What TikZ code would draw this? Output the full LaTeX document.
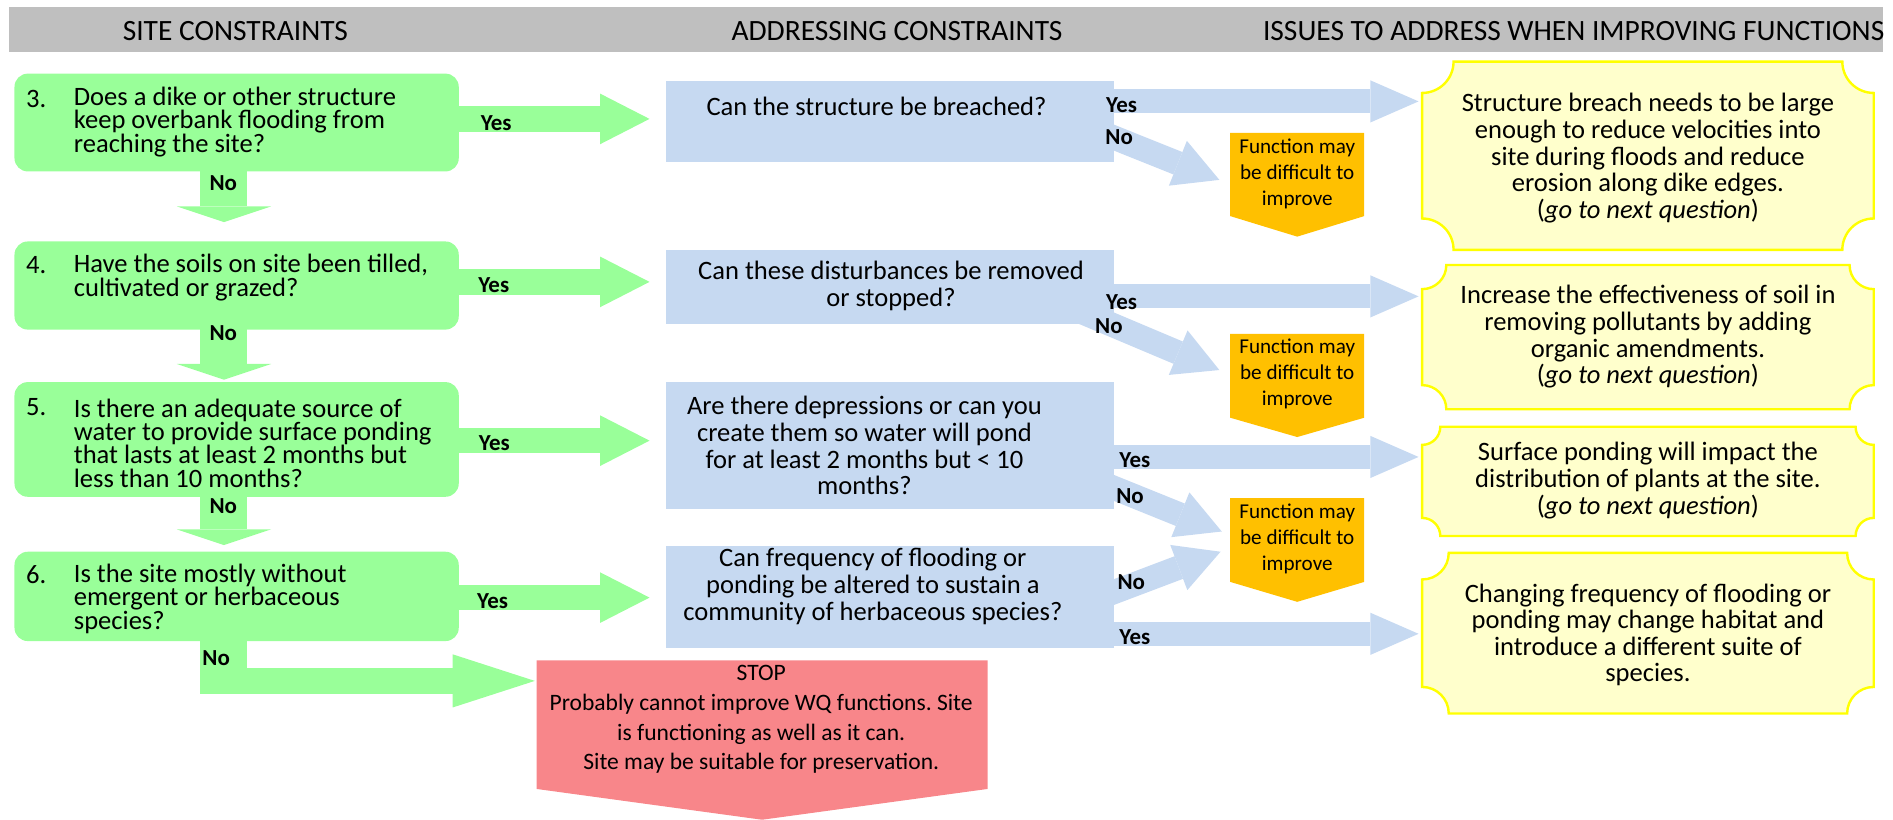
\documentclass[tikz,border=0pt]{standalone}
\usepackage{fontspec}
\setmainfont{Carlito}
\usetikzlibrary{arrows.meta,calc}
\lineskiplimit=-60pt
\lineskip=0pt
\frenchspacing
\definecolor{gfill}{HTML}{99FF99}
\definecolor{bfill}{HTML}{C6D9F1}
\definecolor{ofill}{HTML}{FFC000}
\definecolor{yfill}{HTML}{FFFFCC}
\definecolor{yline}{HTML}{FFFF00}
\definecolor{rfill}{HTML}{F8868A}
\definecolor{hfill}{HTML}{BFBFBF}
\pgfdeclarelayer{arrowlayer}
\pgfdeclarelayer{boxlayer}
\pgfsetlayers{arrowlayer,boxlayer,main}
\newcommand\fs[2]{\fontsize{#1}{#2}\selectfont}
\newcommand\plaque[2]{%
  \path[yshape] ($(#1.north west)+(#2,0)$) -- ($(#1.north east)+(-#2,0)$)
    arc[start angle=180,end angle=270,radius=#2pt]
    -- ($(#1.south east)+(0,-#2)$)
    arc[start angle=90,end angle=180,radius=#2pt]
    -- ($(#1.south west)+(#2,0)$)
    arc[start angle=0,end angle=90,radius=#2pt]
    -- ($(#1.north west)+(0,#2)$)
    arc[start angle=270,end angle=360,radius=#2pt]
    -- cycle;}
\newcommand\pointbox[3]{%
  \fill[#3] (#1.north west) -- (#1.north east) -- (#1.south east)
    -- ($(#1.south)+(0,#2)$) -- (#1.south west) -- cycle;}
\tikzset{
  fat/.style n args={4}{draw=#1, line width=#2,
    -{Triangle[length=#3 0 0, width=#4 0 0, line width=0pt]}},
  gyes/.style={fat={gfill}{21pt}{41pt}{42pt}},
  gdown/.style={fat={gfill}{39pt}{13pt}{78pt}},
  gbend/.style={fat={gfill}{22pt}{68pt}{44pt}},
  bfat/.style={fat={bfill}{20pt}{40pt}{35pt}},
  bdiag/.style={fat={bfill}{20pt}{37pt}{40pt}},
  shp/.style={inner sep=0pt, outer sep=0pt, draw=none},
  gbox/.style={shp, fill=gfill, rounded corners=11pt, minimum width=368pt},
  bbox/.style={shp, fill=bfill, minimum width=371pt},
  obox/.style={shp, minimum width=111pt},
  ybox/.style={shp, minimum width=374pt},
  yshape/.style={fill=yfill, draw=yline, line width=2pt},
  gtxt/.style={inner sep=0pt, font=\fs{22}{19.3}, align=left, anchor=west},
  numtxt/.style={inner sep=0pt, font=\fs{22}{19.3}, anchor=west},
  btxt/.style={inner sep=0pt, font=\fs{22}{22.3}, align=center},
  ytxt/.style={inner sep=0pt, font=\fs{22}{22}, align=center},
  otxt/.style={inner sep=0pt, font=\fs{17.5}{21.5}, align=center},
  stxt/.style={inner sep=0pt, font=\fs{19.5}{24.5}, align=center},
  lbl/.style={inner sep=0pt, font=\fs{19}{19}\bfseries},
  hdr/.style={inner sep=0pt, font=\fs{24.4}{24}},
}
\begin{document}
\begin{tikzpicture}[x=1pt,y=-1pt]
\useasboundingbox (0,0) rectangle (1568,679);
\begin{pgfonlayer}{boxlayer}
  \node[shp, fill=hfill, minimum width=1552.5pt, minimum height=37pt] (hbar) at (783.75,24.5) {};
  % green boxes
  \node[gbox, minimum height=81pt] (g3) at (196,101.5) {};
  \node[gbox, minimum height=73pt] (g4) at (196,236.5) {};
  \node[gbox, minimum height=95pt] (g5) at (196,364) {};
  \node[gbox, minimum height=74pt] (g6) at (196,494) {};
  % blue boxes
  \node[bbox, minimum height=67pt] (b1) at (737.5,100.5) {};
  \node[bbox, minimum height=61pt] (b2) at (737.5,237.5) {};
  \node[bbox, minimum height=105.5pt] (b3) at (737.5,369.25) {};
  \node[bbox, minimum height=85pt] (b4) at (737.5,494.5) {};
  % orange boxes
  \node[obox, minimum height=69pt] (o1) at (1074.5,144.5) {};
  \node[obox, minimum height=69.5pt] (o2) at (1074.5,311.25) {};
  \node[obox, minimum height=69.5pt] (o3) at (1074.5,447.25) {};
  \pointbox{o1}{17}{ofill}
  \pointbox{o2}{16}{ofill}
  \pointbox{o3}{16.5}{ofill}
  % yellow boxes
  \node[ybox, minimum height=156pt] (y1) at (1365,129) {};
  \node[ybox, minimum height=119.5pt] (y2) at (1365,279.25) {};
  \node[ybox, minimum height=90.5pt] (y3) at (1365,398.75) {};
  \node[ybox, minimum height=133pt] (y4) at (1365,524.5) {};
  \plaque{y1}{26}
  \plaque{y2}{20}
  \plaque{y3}{15}
  \plaque{y4}{22}
  % stop box
  \node[shp, minimum width=373.5pt, minimum height=106.5pt] (stop) at (631.25,600.25) {};
  \pointbox{stop}{25.5}{rfill}
\end{pgfonlayer}
\begin{pgfonlayer}{arrowlayer}
  % green yes arrows
  \coordinate (g3y) at ($(g3.east)+(-1,-3)$);
  \coordinate (g4y) at ($(g4.east)+(-1,-3)$);
  \coordinate (g5y) at ($(g5.east)+(-1,1)$);
  \coordinate (g6y) at ($(g6.east)+(-1,1)$);
  \draw[gyes, shorten >=14pt] (g3y) -- (g3y -| b1.west);
  \draw[gyes, shorten >=14pt] (g4y) -- (g4y -| b2.west);
  \draw[gyes, shorten >=14pt] (g5y) -- (g5y -| b3.west);
  \draw[gyes, shorten >=14pt] (g6y) -- (g6y -| b4.west);
  % green no arrows
  \coordinate (d3) at ($(g3.south)+(-10.5,-1)$);
  \coordinate (d4) at ($(g4.south)+(-10.5,-1)$);
  \coordinate (d5) at ($(g5.south)+(-10.5,-1)$);
  \coordinate (d6) at ($(g6.south)+(-11,-1)$);
  \draw[gdown, shorten >=16pt] (d3) -- (d3 |- g4.north);
  \draw[gdown, shorten >=2pt] (d4) -- (d4 |- g5.north);
  \draw[gdown, shorten >=5.5pt] (d5) -- (d5 |- g6.north);
  \draw[draw=gfill, line width=39pt] (d6) -- ++(0,45);
  \coordinate (l6) at ($(d6)+(-19,34)$);
  \draw[gbend, shorten >=1.5pt] (l6) -- (l6 -| stop.west);
  % blue yes arrows
  \coordinate (a1) at ($(b1.east)+(-1,-16.5)$);
  \coordinate (a2) at ($(b2.east)+(-1,8)$);
  \coordinate (a3) at ($(b3.east)+(-1,9.25)$);
  \coordinate (a4) at ($(b4.east)+(-1,30.5)$);
  \draw[bfat, shorten >=3pt] (a1) -- (a1 -| y1.west);
  \draw[bfat, shorten >=3pt] (a2) -- (a2 -| y2.west);
  \draw[bfat, shorten >=3pt] (a3) -- (a3 -| y3.west);
  \draw[bfat, shorten >=3pt] (a4) -- (a4 -| y4.west);
  % blue no arrows
  \draw[bdiag] ($(b1.east)+(-19,6)$) -- ($(o1.west)+(-9,4.5)$);
  \draw[bdiag] ($(b2.east)+(-28,20.5)$) -- ($(o2.west)+(-9,-4.75)$);
  \draw[bdiag] ($(b3.east)+(-23,25.75)$) -- ($(o3.west)+(-7,-7)$);
  \draw[bdiag] ($(b4.east)+(-23,4.5)$) -- ($(o3.west)+(-8,9.75)$);
\end{pgfonlayer}
% header texts
\node[hdr] (h1) at (195,26) {SITE CONSTRAINTS};
\node[hdr] (h2) at (743,26) {ADDRESSING CONSTRAINTS};
\node[hdr] (h3) at (1303.5,26) {ISSUES TO ADDRESS WHEN IMPROVING FUNCTIONS};
% green texts
\node[numtxt] (n3) at (21.5,82) {3.};
\node[gtxt] (t3) at (61,101) {Does a dike or other structure\\keep overbank flooding from\\reaching the site?};
\node[numtxt] (n4) at (21.5,219.5) {4.};
\node[gtxt] (t4) at (61,230) {Have the soils on site been tilled,\\cultivated or grazed?};
\node[numtxt] (n5) at (21.5,337) {5.};
\node[gtxt] (t5) at (61,367) {Is there an adequate source of\\water to provide surface ponding\\that lasts at least 2 months but\\less than 10 months?};
\node[numtxt] (n6) at (21.5,476) {6.};
\node[gtxt] (t6) at (61,496) {Is the site mostly without\\emergent or herbaceous\\species?};
% blue texts
\node[btxt] (tb1) at (726,88.5) {Can the structure be breached?};
\node[btxt] (tb2) at (738,237) {Can these disturbances be removed\\or stopped?};
\node[btxt] (tb3) at (716,369) {Are there depressions or can you\\create them so water will pond\\for at least 2 months but < 10\\months?};
\node[btxt] (tb4) at (723,485.5) {Can frequency of flooding or\\ponding be altered to sustain a\\community of herbaceous species?};
% orange texts
\node[otxt] (to1) at (1074.5,144) {Function may\\be difficult to\\improve};
\node[otxt] (to2) at (1074.5,310) {Function may\\be difficult to\\improve};
\node[otxt] (to3) at (1074.5,446) {Function may\\be difficult to\\improve};
% yellow texts
\node[ytxt] (ty1) at (1365,131) {Structure breach needs to be large\\enough to reduce velocities into\\site during floods and reduce\\erosion along dike edges.\\(\textit{go to next question})};
\node[ytxt] (ty2) at (1365,279) {Increase the effectiveness of soil in\\removing pollutants by adding\\organic amendments.\\(\textit{go to next question})};
\node[ytxt] (ty3) at (1365,398) {Surface ponding will impact the\\distribution of plants at the site.\\(\textit{go to next question})};
\node[ytxt] (ty4) at (1365,526) {Changing frequency of flooding or\\ponding may change habitat and\\introduce a different suite of\\species.};
% stop text
\node[stxt] (ts) at (630.5,596) {STOP\\Probably cannot improve WQ functions. Site\\is functioning as well as it can.\\Site may be suitable for preservation.};
% labels
\node[lbl] (ly3) at (411,102) {Yes};
\node[lbl] (ly4) at (409,236) {Yes};
\node[lbl] (ly5) at (409.5,367) {Yes};
\node[lbl] (ly6) at (408,498) {Yes};
\node[lbl] (ln3) at (185,152) {No};
\node[lbl] (ln4) at (185,276) {No};
\node[lbl] (ln5) at (185,419) {No};
\node[lbl] (ln6) at (179,545) {No};
\node[lbl] (lya) at (929,87) {Yes};
\node[lbl] (lna) at (927,113.5) {No};
\node[lbl] (lyb) at (929,250) {Yes};
\node[lbl] (lnb) at (918.5,270.5) {No};
\node[lbl] (lyc) at (940,381) {Yes};
\node[lbl] (lnc) at (936,411) {No};
\node[lbl] (lnd) at (937,482) {No};
\node[lbl] (lyd) at (940,527.5) {Yes};
\end{tikzpicture}
\end{document}
